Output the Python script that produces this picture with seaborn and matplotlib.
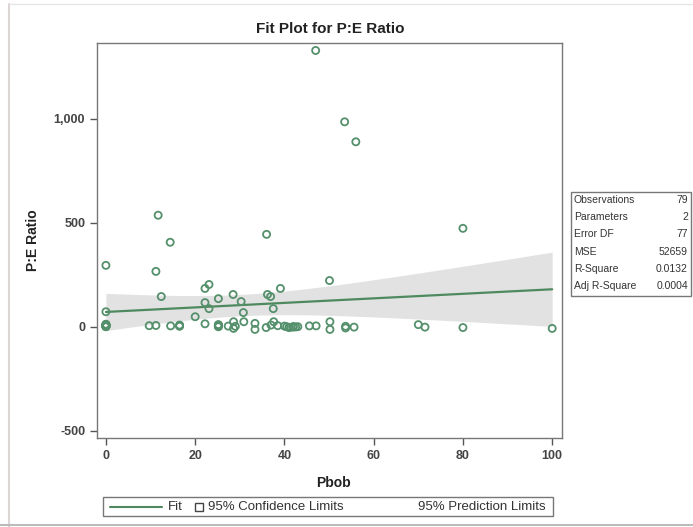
import numpy as np
import pandas as pd
import seaborn as sns
import matplotlib
matplotlib.use('AGG')
import matplotlib.pyplot as plt
from matplotlib.lines import Line2D
from matplotlib.patches import Rectangle
from matplotlib.ticker import FuncFormatter

sns.set_style("white")
plt.rcParams['font.family'] = ['Liberation Sans', 'DejaVu Sans']

# Observations
pbob = [
    47.0, 53.5, 56.0, 11.7, 36.0, 80.0, 14.4, 0.0, 11.2, 50.1, 39.1, 12.4, 23.1,
    22.2, 25.2, 28.5, 30.3, 36.2, 36.9, 22.2, 23.1, 30.8, 37.5, 0.0, 20.0, 22.2,
    0.0, 0.0, 0.0, 0.0, 0.0, 0.0, 0.0, 0.0, 0.0, 0.0, 0.0,
    9.7, 11.2, 14.5, 16.5, 16.5, 16.5,
    25.2, 25.2, 25.2, 25.2, 25.2, 25.2,
    27.4, 28.6, 28.6, 29.0, 30.9, 33.4, 33.4, 35.9, 37.0, 37.6, 38.5,
    40.0, 40.5, 41.0, 41.1, 41.9, 42.0, 42.5, 43.0, 45.6, 47.1,
    50.2, 50.2, 53.7, 53.7, 55.6, 70.0, 71.5, 80.0, 100.0,
]
pe_ratio = [
    1328, 985, 889, 536, 444, 473, 406, 295, 266, 222, 184, 145, 203,
    184, 135, 155, 121, 155, 145, 116, 87, 68, 87, 72, 48, 14,
    0, 2, 5, 8, 10, 12, 3, 6, 1, 4, 9,
    5, 6, 4, 8, 2, 5,
    2, 6, 10, 0, 4, 8,
    3, 24, -8, 2, 24, 16, -13, -4, 8, 24, 5,
    3, 0, -3, -4, -2, 1, -1, 0, 4, 4,
    24, -13, -6, 2, -2, 10, -2, -4, -8,
]

# Fit line, stats from the inset table
fit_intercept = 71.0
fit_slope = 1.09
mse = 52659
t_crit = 1.991

stat_names = ['Observations', 'Parameters', 'Error DF', 'MSE', 'R-Square', 'Adj R-Square']
stat_values = ['79', '2', '77', '52659', '0.0132', '0.0004']

df = pd.DataFrame({'Pbob': pbob, 'PE': pe_ratio})

# Confidence band for the mean
x = np.array(pbob)
n = len(x)
sxx = ((x - x.mean()) ** 2).sum()
grid = np.linspace(x.min(), x.max(), 60)
fit = fit_intercept + fit_slope * grid
half = t_crit * np.sqrt(mse * (1 / n + (grid - x.mean()) ** 2 / sxx))

W, H = 693, 527
fig = plt.figure(figsize=(W / 100, H / 100), dpi=100)
ax = fig.add_axes([97 / W, 1 - 438 / H, 465 / W, 395 / H])

ax.fill_between(grid, fit - half, fit + half, color='#e2e2e2', lw=0, zorder=1)
sns.lineplot(x=grid, y=fit, color='#4f8a5f', lw=1.6, ax=ax, zorder=2)
sns.scatterplot(data=df, x='Pbob', y='PE', marker='o', s=26,
                facecolors='none', edgecolor='#55906c', linewidth=1.3,
                ax=ax, zorder=3)

ax.set_xlim(-2.0, 102.2)
ax.set_ylim(-535, 1364)
ax.set_xticks([0, 20, 40, 60, 80, 100])
ax.set_yticks([-500, 0, 500, 1000])
ax.yaxis.set_major_formatter(FuncFormatter(lambda v, p: f'{v:,.0f}'))
ax.set_xlabel('')
ax.set_ylabel('')
ax.tick_params(axis='both', direction='out', length=5, width=1, color='#555555',
               labelsize=9, labelcolor='#444444', left=True, bottom=True)
for lab in ax.get_xticklabels() + ax.get_yticklabels():
    lab.set_fontweight('bold')
for sp in ax.spines.values():
    sp.set_color('#777777')
    sp.set_linewidth(1.0)

# Titles and axis labels
fig.text(330 / W, 1 - 29 / H, 'Fit Plot for P:E Ratio', ha='center', va='center',
         fontsize=11, fontweight='bold', color='#222222')
fig.text(333 / W, 1 - 483 / H, 'Pbob', ha='center', va='center',
         fontsize=10, fontweight='bold', color='#222222')
fig.text(33 / W, 1 - 240 / H, 'P:E Ratio', ha='center', va='center', rotation=90,
         fontsize=10, fontweight='bold', color='#222222')

# Stats inset
fig.add_artist(Rectangle((571 / W, 1 - 296 / H), 120 / W, 104 / H,
                         transform=fig.transFigure, fc='white', ec='#777777', lw=1))
for i, (name, val) in enumerate(zip(stat_names, stat_values)):
    yy = 1 - (200 + i * 17.2) / H
    fig.text(574 / W, yy, name, ha='left', va='center', fontsize=7.5, color='#333333')
    fig.text(688 / W, yy, val, ha='right', va='center', fontsize=7.5, color='#333333')

# Legend strip
fig.add_artist(Rectangle((103 / W, 1 - 516 / H), 450 / W, 19 / H,
                         transform=fig.transFigure, fc='white', ec='#777777', lw=1))
ly = 1 - 506.5 / H
fig.add_artist(Line2D([110 / W, 162 / W], [ly, ly], transform=fig.transFigure,
                      color='#4f8a5f', lw=1.5))
fig.text(168 / W, ly, 'Fit', ha='left', va='center', fontsize=9.5, color='#333333')
fig.add_artist(Rectangle((195 / W, ly - 4 / H), 8 / W, 8 / H,
                         transform=fig.transFigure, fc='white', ec='#444444', lw=1))
fig.text(208 / W, ly, '95% Confidence Limits', ha='left', va='center',
         fontsize=9.5, color='#333333')
fig.text(418 / W, ly, '95% Prediction Limits', ha='left', va='center',
         fontsize=9.5, color='#333333')

# Scanned page edges
fig.add_artist(Line2D([9 / W, 9 / W], [0, 1 - 4 / H], transform=fig.transFigure,
                      color='#ddd4d4', lw=1.5))
fig.add_artist(Line2D([9 / W, 1], [1 - 4 / H, 1 - 4 / H], transform=fig.transFigure,
                      color='#e6e6e6', lw=1))
fig.add_artist(Line2D([0, 1], [1 - 525 / H, 1 - 525 / H], transform=fig.transFigure,
                      color='#bbbbbb', lw=1.5))

fig.savefig('out.png', dpi=100)
